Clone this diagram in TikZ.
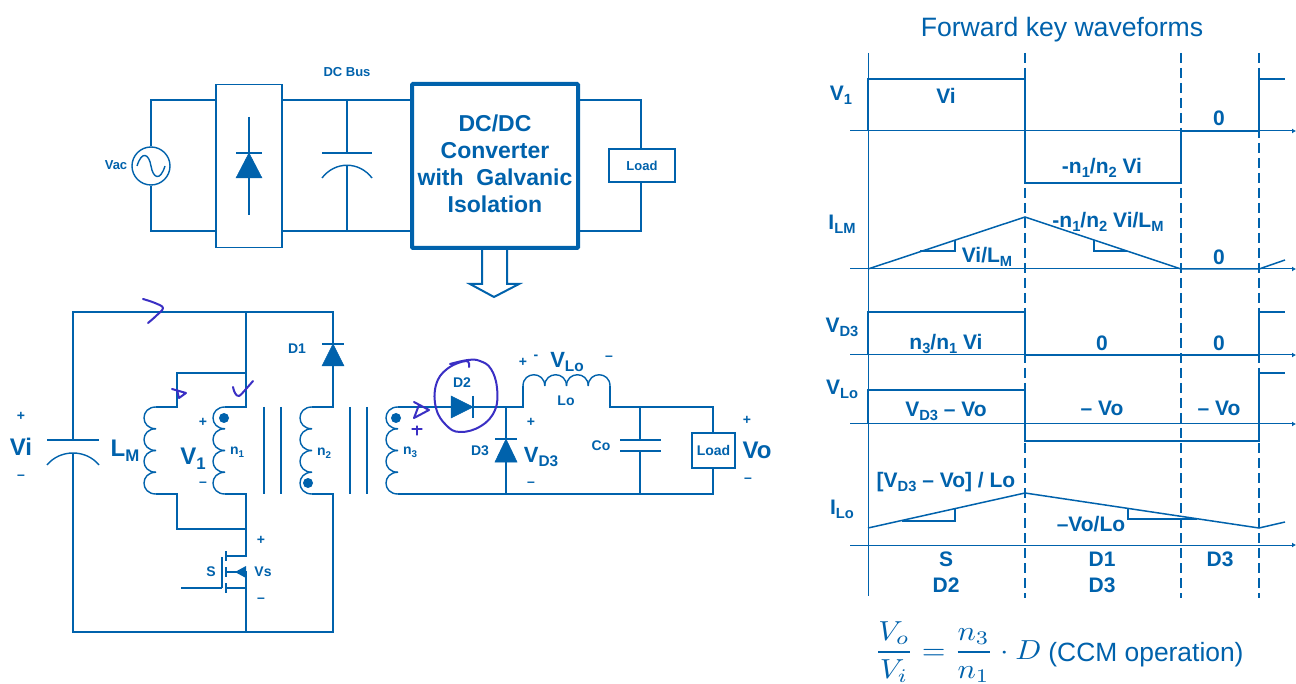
\documentclass[tikz,border=0pt]{standalone}
\usepackage{amsmath}
\usepackage{fontspec}
\setmainfont{Liberation Sans}
\usetikzlibrary{arrows.meta}
\definecolor{bl}{RGB}{0,98,172}
\definecolor{ink}{RGB}{58,47,196}
\newcommand{\fsz}[1]{\fontsize{#1}{#1}\selectfont}
\newcommand{\sbx}[1]{\raisebox{-0.2em}{\scalebox{0.7}{#1}}}
% vertical coil: xr, xl extent, ytop, ybottom
\newcommand{\coilV}[4]{%
  \pgfmathsetmacro{\hh}{(#4-#3)/4}\pgfmathsetmacro{\cc}{#1-(#1-#2)/0.75}%
  \foreach \ii in {0,1,2,3}{%
    \pgfmathsetmacro{\ya}{#3+\ii*\hh}\pgfmathsetmacro{\yb}{#3+(\ii+1)*\hh}%
    \draw[wire] (#1,\ya) .. controls (\cc,\ya) and (\cc,\yb) .. (#1,\yb);}}
\begin{document}
\begin{tikzpicture}[x=1pt,y=-1pt,
  wire/.style={draw=bl,line width=1.4pt,line join=miter},
  thinw/.style={draw=bl,line width=1.1pt},
  axisl/.style={draw=bl,line width=1pt},
  wave/.style={draw=bl,line width=1.5pt},
  phase/.style={draw=bl,line width=1.6pt,dash pattern=on 10pt off 5pt},
  solid tri/.style={fill=bl,draw=bl,line width=.5pt,line join=miter},
  hand/.style={draw=ink,line width=2pt,line cap=round,line join=round},
  lbl/.style={text=bl,font=\bfseries\fsz{14},inner sep=0pt,anchor=center},
  big/.style={lbl,font=\bfseries\fsz{24}},
  wl/.style={lbl,font=\bfseries\fsz{21}},
  box/.style={draw=bl,line width=1.4pt,fill=white,inner sep=0pt},
]
\useasboundingbox (0,0) rectangle (1296,684);
\fill[white] (0,0) rectangle (1296,684);

% ---------- top block diagram ----------
\node[box,minimum width=66pt,minimum height=163pt] (rect) at (249,166) {};
\node[box,line width=4pt,rounded corners=1pt,minimum width=166pt,minimum height=164pt,align=center,text=bl,font=\bfseries\fsz{23}] (conv) at (495,166)
  {\rule{0pt}{21pt}DC/DC\\[4pt]Converter\\[4pt]with\ \ Galvanic\\[4pt]Isolation\rule[-9pt]{0pt}{9pt}};
\node[box,minimum width=66pt,minimum height=33pt,font=\bfseries\fsz{13},text=bl] (load1) at (642,165.5) {Load};
\node[draw=bl,line width=1.4pt,circle,minimum size=38pt,inner sep=0pt] (src) at (151,166) {};
\coordinate (tl) at (151,100); \coordinate (bl1) at (151,231);
\coordinate (capT) at (347,100); \coordinate (capB) at (347,231);
\coordinate (rT) at (641,100); \coordinate (rB) at (641,231);
\draw[wire] (src.north) -- (tl) -- (tl-|rect.west);
\draw[wire] (src.south) -- (bl1) -- (bl1-|rect.west);
\draw[wire] (tl-|rect.east) -- (tl-|conv.west);
\draw[wire] (bl1-|rect.east) -- (bl1-|conv.west);
\draw[wire] (tl-|conv.east) -- (rT) -- (load1.north-|rT);
\draw[wire] (bl1-|conv.east) -- (rB) -- (load1.south-|rT);
\draw[wire] (137,166) .. controls (142,150) and (149,154) .. (151,166) .. controls (153,178) and (160,182) .. (165,166);
\draw[wire] (249,117) -- (249,215);
\draw[solid tri] (249,153) -- (262,178) -- (236,178) -- cycle;
\draw[wire] (236,153) -- (262,153);
\draw[wire] (capT) -- (347,153);
\draw[wire] (322,153) -- (372,153);
\draw[wire] (322,178) .. controls (335,161) and (359,161) .. (372,178);
\draw[wire] (347,165) -- (capB);
\node[lbl,font=\bfseries\fsz{13}] (vac) at (116,165) {Vac};
\node[lbl,font=\bfseries\fsz{13}] (dcbus) at (347,72) {DC Bus};
\draw[wire,line width=2pt,line join=miter] (482,250) -- (482,284) -- (470,284) -- (494,297) -- (519,284) -- (507,284) -- (507,250);

% ---------- primary ----------
\coordinate (TL) at (73,312); \coordinate (TM) at (246,312); \coordinate (TR) at (333,312);
\coordinate (BL) at (73,632); \coordinate (BM) at (246,632); \coordinate (BR) at (333,632);
\coordinate (Jb) at (246,373); \coordinate (Ja) at (177,373);
\coordinate (Jd) at (246,529); \coordinate (Jc) at (177,529);
\draw[wire] (73,440) -- (TL) -- (TM) -- (TR) -- (333,344);
\draw[wire] (TM) -- (246,407) -- (225,407);
\draw[wire] (Jb) -- (Ja) -- (177,407) -- (156,407);
\draw[wire] (156,494) -- (177,494) -- (Jc) -- (Jd);
\draw[wire] (225,494) -- (246,494) -- (246,556) -- (226,556);
\draw[wire] (226,572) -- (246,572) -- (BM);
\draw[wire] (226,588) -- (246,588);
\draw[wire] (73,453) -- (BL) -- (BM) -- (BR) -- (333,494) -- (312,494);
\draw[wire] (333,366) -- (333,407) -- (312,407);
% input cap
\draw[wire] (47,440) -- (99,440);
\draw[wire] (47,465) .. controls (60,449) and (86,449) .. (99,465);
% coils
\coilV{156}{144}{407}{494}
\coilV{225}{213}{407}{494}
\coilV{312}{300}{407}{494}
\coilV{398}{386}{407}{494}
\fill[bl] (224,418) circle (5pt) (308,483) circle (5pt) (396,418) circle (5pt);
\draw[wire] (264,407) -- (264,494) (281,407) -- (281,494) (350,407) -- (350,494) (367,407) -- (367,494);
% D1
\draw[solid tri] (333,344) -- (344,366) -- (322,366) -- cycle;
\draw[wire] (322,344) -- (344,344);
% MOSFET
\draw[wire] (181,588) -- (222,588);
\draw[wire] (222,557) -- (222,588);
\draw[wire] (226,551) -- (226,561) (226,567) -- (226,577) (226,583) -- (226,593);
\fill[bl] (235,572) -- (246,566) -- (246,578) -- cycle;

% ---------- secondary ----------
\coordinate (A) at (506,407); \coordinate (B) at (640,407); \coordinate (C) at (713,407);
\coordinate (D) at (506,494); \coordinate (E) at (640,494); \coordinate (F) at (713,494);
\node[box,minimum width=43pt,minimum height=35pt,font=\bfseries\fsz{14},text=bl] (load2) at (713.5,450.5) {Load};
\draw[wire] (398,407) -- (A) -- (523,407) -- (523,386);
\draw[wire] (610,386) -- (610,407) -- (B) -- (C) -- (load2.north-|C);
\draw[wire] (398,494) -- (D) -- (E) -- (F) -- (load2.south-|F);
\draw[wire] (B) -- (640,440) (640,451) -- (E);
\draw[wire] (620,440) -- (661,440) (620,451) -- (661,451);
\draw[wire] (A) -- (506,439) (506,462) -- (D);
\draw[solid tri] (451,396) -- (473,407) -- (451,418) -- cycle;
\draw[wire] (473,396) -- (473,418);
\draw[solid tri] (506,439) -- (517,462) -- (495,462) -- cycle;
\draw[wire] (495,439) -- (517,439);
\foreach \xa/\xb in {523/544.75,544.75/566.5,566.5/588.25,588.25/610}{
  \draw[wire] (\xa,386) .. controls (\xa,371) and (\xb,371) .. (\xb,386);}

% ---------- circuit labels ----------
\node[lbl] (p1) at (21,416) {+};
\node[big] (vi) at (21,447) {Vi};
\node[lbl] (m1) at (21,477) {–};
\node[big] (lm) at (125,451) {L\sbx{M}};
\node[big] (v1) at (193,459) {V\sbx{1}};
\node[lbl] (p2) at (203,422) {+};
\node[lbl] (m2) at (203,484) {–};
\node[lbl] (n1) at (237,452) {n\sbx{1}};
\node[lbl] (n2) at (324,453) {n\sbx{2}};
\node[lbl] (n3) at (410,452) {n\sbx{3}};
\node[lbl] (d1) at (297,349) {D1};
\node[lbl] (p3) at (261,540) {+};
\node[lbl] (s) at (211,572) {S};
\node[lbl] (vs) at (263,572) {Vs};
\node[lbl] (m3) at (261,600) {–};
\node[lbl] (d2) at (462,383) {D2};
\node[lbl] (p4) at (523,362) {+};
\node[lbl] (m4) at (536,357) {-};
\node[big,font=\bfseries\fsz{22}] (vlo) at (567,362) {V\sbx{Lo}};
\node[lbl] (m5) at (609,358) {–};
\node[lbl] (lo) at (566,401) {Lo};
\node[lbl] (p5) at (531,422) {+};
\node[big,font=\bfseries\fsz{22}] (vd3) at (541,457) {V\sbx{D3}};
\node[lbl] (m6) at (531,484) {–};
\node[lbl] (d3) at (480,451) {D3};
\node[lbl] (co) at (601,446) {Co};
\node[lbl] (p6) at (747,420) {+};
\node[big] (vo) at (757,450) {Vo};
\node[lbl] (m7) at (748,480) {–};

% ---------- handwriting ----------
\draw[hand] plot[smooth,tension=.6] coordinates {(143,299) (155,303) (163,308) (156,316) (148,323)};
\draw[hand] (172,389) -- (186,393) -- (179,398) -- (177,390);
\draw[hand] plot[smooth,tension=.6] coordinates {(233,387) (235,393) (239,396) (246,389) (253,381)};
\draw[hand] (414,402) -- (429,410) -- (414,418) -- (419,405);
\draw[hand,line width=1.3pt] (417,426) -- (417,435) (412,429) -- (422,429);
\draw[hand] plot[smooth,tension=.7] coordinates {(450,364) (468,360) (480,361) (491,369) (497,388) (495,410) (481,426) (460,432) (446,425) (436,408) (436,385) (447,369) (466,361) (469,367)};

% ---------- waveforms ----------
\node[lbl,font=\fsz{26.6}] (title) at (1062,30) {Forward key waveforms};
\foreach \yy in {131,269,355,424,545}{
  \draw[axisl,-{Latex[length=4pt,width=5pt]}] (850,\yy) -- (1296,\yy);}
\draw[axisl] (868,53) -- (868,596);
\draw[phase] (1025,53) -- (1025,598);
\draw[phase] (1181,53) -- (1181,598);
\draw[phase] (1259,53) -- (1259,598);
\draw[wave] (868,131) -- (868,79) -- (1025,79) -- (1025,183) -- (1181,183) -- (1181,131) -- (1259,131) -- (1259,79) -- (1285,79);
\draw[wave] (868,269) -- (1025,217) -- (1181,269) -- (1259,269) -- (1285,260);
\draw[thinw] (920,251) -- (955,251) -- (955,240);
\draw[thinw] (1094,240) -- (1094,251) -- (1127,251);
\draw[wave] (868,355) -- (868,312) -- (1025,312) -- (1025,355) -- (1259,355) -- (1259,312) -- (1285,312);
\draw[wave] (868,424) -- (868,390) -- (1025,390) -- (1025,441) -- (1259,441) -- (1259,373) -- (1285,373);
\draw[wave] (868,528) -- (1025,493) -- (1259,528) -- (1285,522);
\draw[thinw] (902,521) -- (955,521) -- (955,509);
\draw[thinw] (1128,509) -- (1128,519) -- (1197,519);

\node[wl] (w1) at (841,95) {V\sbx{1}};
\node[wl] (w2) at (946,96) {Vi};
\node[wl] (w3) at (1219,118) {0};
\node[wl] (w4) at (1102,168) {-n\sbx{1}/n\sbx{2} Vi};
\node[wl] (w5) at (842,224) {I\sbx{LM}};
\node[wl] (w6) at (1108,222) {-n\sbx{1}/n\sbx{2} Vi/L\sbx{M}};
\node[wl] (w7) at (987,257) {Vi/L\sbx{M}};
\node[wl] (w8) at (1219,257) {0};
\node[wl] (w9) at (842,327) {V\sbx{D3}};
\node[wl] (w10) at (946,344) {n\sbx{3}/n\sbx{1} Vi};
\node[wl] (w11) at (1102,343) {0};
\node[wl] (w12) at (1219,343) {0};
\node[wl] (w13) at (842,389) {V\sbx{Lo}};
\node[wl] (w14) at (946,411) {V\sbx{D3} – Vo};
\node[wl] (w15) at (1102,408) {– Vo};
\node[wl] (w16) at (1219,408) {– Vo};
\node[wl] (w17) at (946,482) {[V\sbx{D3} – Vo] / Lo};
\node[wl] (w18) at (842,509) {I\sbx{Lo}};
\node[wl] (w19) at (1091,524) {–Vo/Lo};
\node[wl] (w20) at (946,559) {S};
\node[wl] (w21) at (946,585) {D2};
\node[wl] (w22) at (1102,559) {D1};
\node[wl] (w23) at (1102,585) {D3};
\node[wl] (w24) at (1220,559) {D3};

\node[text=bl,inner sep=0pt,anchor=center] (eq) at (958,652) {\scalebox{3.05}[2.75]{$\displaystyle\genfrac{}{}{0.7pt}{0}{V_o}{V_i}=\genfrac{}{}{0.7pt}{0}{n_3}{n_1}\cdot D$}};
\node[lbl,font=\fsz{26.4}] (ccm) at (1146,655) {(CCM operation)};
\end{tikzpicture}
\end{document}
